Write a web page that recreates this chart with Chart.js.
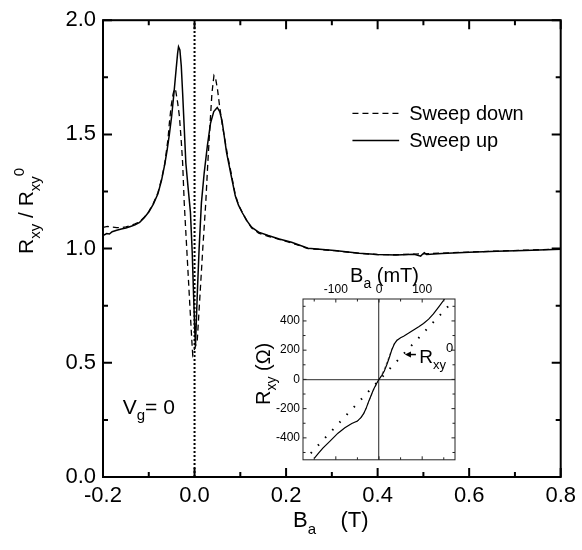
<!DOCTYPE html>
<html>
<head>
<meta charset="utf-8">
<script src="https://cdn.jsdelivr.net/npm/chart.js@4.4.1/dist/chart.umd.min.js"></script>
<style>
  body { margin: 0; background: #fff; }
  #wrap { position: relative; width: 582px; height: 550px; }
  #main { position: absolute; left: 0; top: 0; }
  #inset { position: absolute; left: 250px; top: 258px; }
</style>
</head>
<body>
<div id="wrap">
  <canvas id="main" width="582" height="550"></canvas>
  <canvas id="inset" width="215" height="212"></canvas>
</div>
<script>
// main panel: R_xy / R_xy^0 against B_a (T)
const upB = [-0.200, -0.192, -0.186, -0.180, -0.170, -0.160, -0.150, -0.140, -0.130, -0.120,
  -0.110, -0.100, -0.090, -0.080, -0.072, -0.065, -0.060, -0.055, -0.050, -0.045,
  -0.040, -0.037, -0.035, -0.032, -0.029, -0.026, -0.023, -0.019, -0.014, -0.009,
  -0.005, -0.002, 0.000, 0.002, 0.006, 0.010, 0.015, 0.021, 0.028,
  0.035, 0.042, 0.0496, 0.055, 0.060, 0.065, 0.070, 0.075, 0.080, 0.089,
  0.096, 0.104, 0.115, 0.125, 0.140, 0.161, 0.185, 0.212, 0.248, 0.306,
  0.360, 0.400, 0.440, 0.480, 0.494, 0.498, 0.502, 0.507, 0.540, 0.600,
  0.660, 0.720, 0.800];
const upR = [1.057, 1.066, 1.064, 1.074, 1.080, 1.086, 1.090, 1.097, 1.104, 1.115,
  1.135, 1.160, 1.195, 1.240, 1.300, 1.370, 1.430, 1.500, 1.580, 1.680,
  1.790, 1.855, 1.884, 1.870, 1.800, 1.680, 1.550, 1.375, 1.265, 1.160,
  0.980, 0.790, 0.670, 0.572, 0.800, 1.000, 1.200, 1.330, 1.450,
  1.550, 1.600, 1.618, 1.600, 1.560, 1.490, 1.420, 1.370, 1.320, 1.231,
  1.190, 1.158, 1.120, 1.093, 1.072, 1.057, 1.042, 1.028, 1.002, 0.992,
  0.980, 0.974, 0.972, 0.975, 0.967, 0.975, 0.982, 0.974, 0.979, 0.984,
  0.988, 0.992, 0.997];

const downB = [-0.200, -0.190, -0.180, -0.170, -0.160, -0.150, -0.140, -0.130, -0.120, -0.110,
  -0.100, -0.090, -0.080, -0.072, -0.065, -0.058, -0.055, -0.051, -0.047, -0.044,
  -0.041, -0.037, -0.033, -0.029, -0.026, -0.0225, -0.0165, -0.0105, -0.006, -0.004,
  0.000, 0.006, 0.012, 0.018, 0.0245, 0.029, 0.034, 0.038, 0.0424, 0.046,
  0.050, 0.055, 0.060, 0.066, 0.072, 0.080, 0.089, 0.096, 0.104, 0.115,
  0.125, 0.140, 0.161, 0.185, 0.212, 0.248, 0.306, 0.360, 0.400, 0.440,
  0.480, 0.540, 0.600, 0.660, 0.720, 0.800];
const downR = [1.093, 1.097, 1.094, 1.092, 1.092, 1.095, 1.100, 1.108, 1.118, 1.137,
  1.162, 1.198, 1.245, 1.305, 1.372, 1.480, 1.550, 1.625, 1.675, 1.700,
  1.690, 1.640, 1.578, 1.470, 1.375, 1.200, 0.980, 0.760, 0.600, 0.535,
  0.560, 0.600, 0.800, 1.000, 1.200, 1.375, 1.550, 1.680, 1.758, 1.745,
  1.700, 1.620, 1.550, 1.480, 1.410, 1.330, 1.236, 1.192, 1.160, 1.118,
  1.090, 1.068, 1.054, 1.040, 1.025, 1.000, 0.991, 0.979, 0.974, 0.973,
  0.976, 0.980, 0.985, 0.989, 0.993, 0.998];

const zeroFieldB = [0, 0];
const zeroFieldR = [0, 2];

const xTicks = [-0.2, 0, 0.2, 0.4, 0.6, 0.8];
const xMinorTicks = [-0.1, 0.1, 0.3, 0.5, 0.7];
const yTicks = [0, 0.5, 1, 1.5, 2];
const yMinorTicks = [0.25, 0.75, 1.25, 1.75];

// inset: R_xy (Ohm) against B_a (mT)
const insetUpB = [-150, -140, -130, -114, -95, -79, -63, -50, -42, -36, -30, -25, -19, -13, -6, 0,
  6, 12, 18, 24, 30, 36, 42, 50, 57, 68, 80, 92, 103, 115, 126, 138, 152];
const insetUpR = [-540, -505, -470, -424, -368, -331, -302, -285, -262, -236, -200, -159, -115, -70, -30, 0,
  25, 55, 100, 150, 205, 245, 268, 285, 295, 315, 338, 360, 382, 412, 448, 495, 550];
const insetDownB = [-52, -44, -36, -28, -20, -12, -4, 4, 12, 20, 28, 36, 44];
const insetDownR = [-290, -272, -240, -185, -125, -70, -25, 20, 70, 130, 195, 250, 280];
const r0B = [-158, 165];
const r0R = [-505, 515];

const insetXTicks = [-100, 0, 100];
const insetXMinor = [-150, -50, 50, 150];
const insetYTicks = [-400, -200, 0, 200, 400];
const insetYMinor = [-500, -300, -100, 100, 300, 500];

const FONT = '"Liberation Sans", Arial, Helvetica, sans-serif';

function pts(xs, ys) {
  return xs.map((x, i) => ({ x: x, y: ys[i] }));
}

// text with sub/superscripts, parts = [[text, kind, dy]]
function rich(ctx, x, y, parts, size) {
  let cx = x;
  parts.forEach(p => {
    const kind = p[1];
    const s = kind ? Math.round(size * 0.7) : size;
    ctx.font = s + 'px ' + FONT;
    let dy = 0;
    if (kind === 'sub') dy = size * 0.32;
    if (kind === 'sup') dy = -size * 0.4;
    if (p[2] !== undefined) dy = p[2];
    ctx.fillText(p[0], cx, y + dy);
    cx += ctx.measureText(p[0]).width;
  });
  return cx - x;
}

// box frame plus inward ticks on all four sides
const frameTicks = {
  id: 'frameTicks',
  afterDraw(chart, args, o) {
    const ctx = chart.ctx, a = chart.chartArea;
    const x = chart.scales.x, y = chart.scales.y;
    ctx.save();
    ctx.strokeStyle = o.color;
    ctx.lineWidth = o.width;
    ctx.strokeRect(a.left, a.top, a.right - a.left, a.bottom - a.top);
    ctx.beginPath();
    const xt = (vals, len) => vals.forEach(v => {
      const px = x.getPixelForValue(v);
      ctx.moveTo(px, a.bottom); ctx.lineTo(px, a.bottom - len);
      ctx.moveTo(px, a.top); ctx.lineTo(px, a.top + len);
    });
    const yt = (vals, len) => vals.forEach(v => {
      const py = y.getPixelForValue(v);
      ctx.moveTo(a.left, py); ctx.lineTo(a.left + len, py);
      ctx.moveTo(a.right, py); ctx.lineTo(a.right - len, py);
    });
    xt(o.xMajor, o.major); xt(o.xMinor, o.minor);
    yt(o.yMajor, o.major); yt(o.yMinor, o.minor);
    ctx.stroke();
    ctx.restore();
  }
};

// axis titles, gate label and legend of the main panel
const mainLabels = {
  id: 'mainLabels',
  afterDraw(chart) {
    const ctx = chart.ctx, a = chart.chartArea;
    const x = chart.scales.x, y = chart.scales.y;
    ctx.save();
    ctx.fillStyle = '#000';
    ctx.textBaseline = 'alphabetic';
    ctx.textAlign = 'left';

    // x title
    rich(ctx, 293, 527, [['B'], ['a', 'sub'], ['    (T)']], 22);

    // y title, rotated
    ctx.save();
    ctx.translate(33, 254);
    ctx.rotate(-Math.PI / 2);
    rich(ctx, 0, 0, [['R'], ['xy', 'sub'], [' / R'], ['xy', 'sub'], ['0', 'sup', -9]], 21);
    ctx.restore();

    // V_g = 0
    rich(ctx, x.getPixelForValue(-0.157), y.getPixelForValue(0.278), [['V'], ['g', 'sub'], ['= 0']], 21);

    // legend
    const rows = [chart.data.datasets[1], chart.data.datasets[0]];
    rows.forEach((ds, i) => {
      const ly = y.getPixelForValue(1.592) + i * 27;
      ctx.save();
      ctx.strokeStyle = ds.borderColor;
      ctx.lineWidth = ds.borderWidth;
      ctx.setLineDash(ds.borderDash || []);
      ctx.beginPath();
      ctx.moveTo(x.getPixelForValue(0.345), ly);
      ctx.lineTo(x.getPixelForValue(0.447), ly);
      ctx.stroke();
      ctx.restore();
      ctx.font = '20px ' + FONT;
      ctx.fillText(ds.label, x.getPixelForValue(0.469), ly + 7);
    });
    ctx.restore();
  }
};

new Chart(document.getElementById('main'), {
  type: 'line',
  data: {
    datasets: [
      { label: 'Sweep up', data: pts(upB, upR), borderColor: '#000', borderWidth: 1.5, pointRadius: 0 },
      { label: 'Sweep down', data: pts(downB, downR), borderColor: '#000', borderWidth: 1.3,
        borderDash: [6, 4], pointRadius: 0 },
      { label: '', data: pts(zeroFieldB, zeroFieldR), borderColor: '#000', borderWidth: 2,
        borderDash: [2, 2], pointRadius: 0 }
    ]
  },
  options: {
    responsive: false,
    animation: false,
    devicePixelRatio: 1,
    layout: { padding: { top: 16, right: 17, left: 0, bottom: 0 } },
    plugins: {
      legend: { display: false },
      tooltip: { enabled: false },
      frameTicks: { color: '#000', width: 2, major: 9, minor: 5,
        xMajor: xTicks, xMinor: xMinorTicks, yMajor: yTicks, yMinor: yMinorTicks }
    },
    scales: {
      x: {
        type: 'linear', min: -0.2, max: 0.8,
        grid: { display: false, drawTicks: false },
        border: { display: false },
        afterBuildTicks: s => { s.ticks = xTicks.map(v => ({ value: v })); },
        afterFit: s => { s.height = 73; },
        ticks: { color: '#000', font: { family: FONT, size: 22 }, padding: 6, maxRotation: 0,
          callback: v => v.toFixed(1) }
      },
      y: {
        type: 'linear', min: 0, max: 2,
        grid: { display: false, drawTicks: false },
        border: { display: false },
        afterBuildTicks: s => { s.ticks = yTicks.map(v => ({ value: v })); },
        afterFit: s => { s.width = 103; },
        ticks: { color: '#000', font: { family: FONT, size: 22 }, padding: 7,
          callback: v => v.toFixed(1) }
      }
    }
  },
  plugins: [frameTicks, mainLabels]
});

// inset titles and the R_xy^0 pointer
const insetLabels = {
  id: 'insetLabels',
  afterDraw(chart) {
    const ctx = chart.ctx;
    const x = chart.scales.x, y = chart.scales.y;
    ctx.save();
    ctx.fillStyle = '#000';
    ctx.textAlign = 'left';
    ctx.textBaseline = 'alphabetic';

    rich(ctx, x.getPixelForValue(-67), 24, [['B'], ['a', 'sub'], [' (mT)']], 20);

    ctx.save();
    ctx.translate(20, 147);
    ctx.rotate(-Math.PI / 2);
    rich(ctx, 0, 0, [['R'], ['xy', 'sub'], [' (\u03A9)']], 20);
    ctx.restore();

    // arrow to the dotted line
    const ax = x.getPixelForValue(60), ay = y.getPixelForValue(170);
    ctx.strokeStyle = '#000';
    ctx.lineWidth = 1.5;
    ctx.beginPath();
    ctx.moveTo(ax + 4, ay); ctx.lineTo(ax + 11, ay);
    ctx.stroke();
    ctx.beginPath();
    ctx.moveTo(ax, ay); ctx.lineTo(ax + 6, ay - 3); ctx.lineTo(ax + 6, ay + 3);
    ctx.closePath();
    ctx.fill();
    rich(ctx, x.getPixelForValue(93), y.getPixelForValue(110), [['R'], ['xy', 'sub'], ['0', 'sup', -11]], 19);
    ctx.restore();
  }
};

new Chart(document.getElementById('inset'), {
  type: 'line',
  data: {
    datasets: [
      { label: 'measured', data: pts(insetUpB, insetUpR), borderColor: '#000', borderWidth: 1.2, pointRadius: 0 },
      { label: 'reverse', data: pts(insetDownB, insetDownR), borderColor: '#888', borderWidth: 1,
        borderDash: [3, 2], pointRadius: 0 },
      { label: 'R0', data: pts(r0B, r0R), borderColor: '#000', borderWidth: 2,
        borderDash: [1.5, 9], pointRadius: 0 }
    ]
  },
  options: {
    responsive: false,
    animation: false,
    devicePixelRatio: 1,
    layout: { padding: { top: 0, right: 10, left: 0, bottom: 5 } },
    plugins: {
      legend: { display: false },
      tooltip: { enabled: false },
      frameTicks: { color: '#222', width: 1, major: 3.5, minor: 2.5,
        xMajor: insetXTicks, xMinor: insetXMinor, yMajor: insetYTicks, yMinor: insetYMinor }
    },
    scales: {
      x: {
        type: 'linear', position: 'top', min: -176, max: 176,
        grid: { drawTicks: false, lineWidth: 1.3, color: c => c.tick && c.tick.value === 0 ? '#555' : 'rgba(0,0,0,0)' },
        border: { display: false },
        afterBuildTicks: s => { s.ticks = insetXTicks.map(v => ({ value: v })); },
        afterFit: s => { s.height = 41; },
        ticks: { color: '#000', font: { family: FONT, size: 12 }, padding: 2, maxRotation: 0 }
      },
      y: {
        type: 'linear', min: -550, max: 550,
        grid: { drawTicks: false, lineWidth: 1.3, color: c => c.tick && c.tick.value === 0 ? '#555' : 'rgba(0,0,0,0)' },
        border: { display: false },
        afterBuildTicks: s => { s.ticks = insetYTicks.map(v => ({ value: v })); },
        afterFit: s => { s.width = 53; },
        ticks: { color: '#000', font: { family: FONT, size: 12 }, padding: 3 }
      }
    }
  },
  plugins: [frameTicks, insetLabels]
});
</script>
</body>
</html>
